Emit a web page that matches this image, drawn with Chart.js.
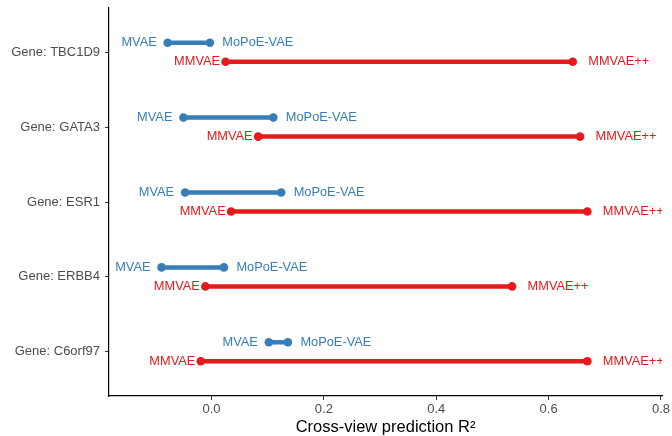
<!DOCTYPE html>
<html>
<head>
<meta charset="utf-8">
<script src="https://cdn.jsdelivr.net/npm/chart.js@4"></script>
<style>
  html, body { margin: 0; padding: 0; background: #fff; }
  #wrap { width: 672px; height: 436px; }
</style>
</head>
<body>
<div id="wrap"><canvas id="chart" width="672" height="436"></canvas></div>
<script>
// Genes listed top to bottom, as in the picture
const genes = ['Gene: TBC1D9', 'Gene: GATA3', 'Gene: ESR1', 'Gene: ERBB4', 'Gene: C6orf97']

// Cross-view prediction R² for each model
const mvae = [-0.078, -0.050, -0.047, -0.089, 0.102]
const mopoe = [-0.003, 0.110, 0.124, 0.022, 0.136]
const mmvae = [0.025, 0.083, 0.035, -0.011, -0.019]
const mmvaePP = [0.643, 0.656, 0.669, 0.535, 0.669]

const xTicks = [0, 0.2, 0.4, 0.6, 0.8]

const blue = '#377EB8'
const red = '#E41A1C'
const font = '"Liberation Sans", Arial, sans-serif'

// gene i sits at y = genes.length - i, blue pair above, red pair below
const rowPos = (i) => genes.length - i
const shift = 0.127

let datasets = []
genes.forEach((g, i) => {
  datasets.push({
    label: g + ' blue',
    data: [{ x: mvae[i], y: rowPos(i) + shift }, { x: mopoe[i], y: rowPos(i) + shift }],
    borderColor: blue,
    backgroundColor: blue,
    showLine: true,
    borderWidth: 4.5,
    pointRadius: 4.3,
    pointBorderWidth: 0,
  })
  datasets.push({
    label: g + ' red',
    data: [{ x: mmvae[i], y: rowPos(i) - shift }, { x: mmvaePP[i], y: rowPos(i) - shift }],
    borderColor: red,
    backgroundColor: red,
    showLine: true,
    borderWidth: 4.5,
    pointRadius: 4.3,
    pointBorderWidth: 0,
  })
})

// Draw the model names next to the ends of each segment
const endLabels = {
  id: 'endLabels',
  afterDatasetsDraw(chart) {
    const { ctx, chartArea, scales } = chart
    ctx.save()
    ctx.beginPath()
    ctx.rect(chartArea.left, chartArea.top, chartArea.right - chartArea.left, chartArea.bottom - chartArea.top)
    ctx.clip()
    ctx.font = '12.8px ' + font
    ctx.textBaseline = 'middle'
    genes.forEach((g, i) => {
      let yb = scales.y.getPixelForValue(rowPos(i) + shift)
      let yr = scales.y.getPixelForValue(rowPos(i) - shift)
      ctx.fillStyle = blue
      ctx.textAlign = 'right'
      ctx.fillText('MVAE', scales.x.getPixelForValue(mvae[i]) - 11, yb)
      ctx.textAlign = 'left'
      ctx.fillText('MoPoE-VAE', scales.x.getPixelForValue(mopoe[i]) + 12.5, yb)
      ctx.fillStyle = red
      ctx.textAlign = 'right'
      ctx.fillText('MMVAE', scales.x.getPixelForValue(mmvae[i]) - 5.5, yr)
      ctx.textAlign = 'left'
      ctx.fillText('MMVAE++', scales.x.getPixelForValue(mmvaePP[i]) + 15.5, yr)
    })
    ctx.restore()
  }
}

new Chart(document.getElementById('chart'), {
  type: 'scatter',
  data: { datasets: datasets },
  plugins: [endLabels],
  options: {
    responsive: false,
    animation: false,
    layout: { padding: { top: 8, right: 9, bottom: 0, left: 0 } },
    plugins: {
      legend: { display: false },
      tooltip: { enabled: false }
    },
    scales: {
      x: {
        type: 'linear',
        min: -0.1825,
        max: 0.802,
        afterBuildTicks: (scale) => { scale.ticks = xTicks.map(v => ({ value: v })) },
        afterFit: (scale) => { scale.height = 40 },
        ticks: {
          color: '#4D4D4D',
          font: { family: font, size: 13 },
          padding: 2,
          maxRotation: 0,
          callback: (v) => v.toFixed(1)
        },
        grid: { display: true, drawOnChartArea: false, drawTicks: true, tickLength: 4, color: '#333333', lineWidth: 1 },
        border: { display: true, color: '#000000', width: 1.2 },
        title: {
          display: true,
          text: 'Cross-view prediction R²',
          color: '#000000',
          font: { family: font, size: 16.5, lineHeight: 1 },
          padding: { top: 0, bottom: 0 }
        }
      },
      y: {
        type: 'linear',
        min: 0.41,
        max: 5.59,
        afterBuildTicks: (scale) => { scale.ticks = genes.map((g, i) => ({ value: rowPos(i) })) },
        afterFit: (scale) => {
          scale.width = 109
          scale.paddingTop = 0
          scale.paddingBottom = 0
        },
        ticks: {
          color: '#4D4D4D',
          font: { family: font, size: 13 },
          padding: 5,
          callback: (v) => genes[genes.length - v]
        },
        grid: { display: true, drawOnChartArea: false, drawTicks: true, tickLength: 4, color: '#333333', lineWidth: 1 },
        border: { display: true, color: '#000000', width: 1.2 }
      }
    }
  }
})
</script>
</body>
</html>
